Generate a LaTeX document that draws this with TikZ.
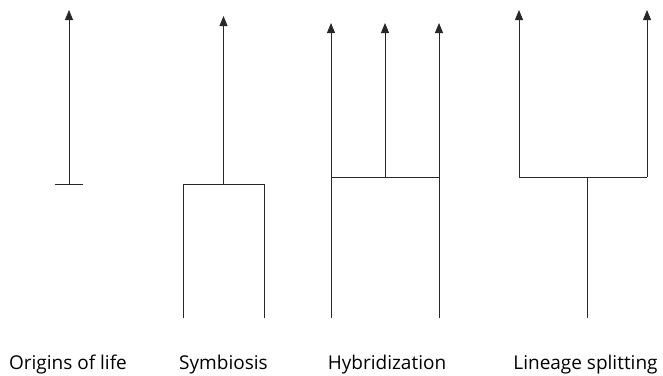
\documentclass[tikz,border=0pt]{standalone}
\usepackage{fontspec}
\setmainfont{Open Sans}
\usepackage{tikz}
\usetikzlibrary{arrows.meta,positioning}
\definecolor{lineGray}{RGB}{40,40,40}

\begin{document}
\begin{tikzpicture}[x=1pt,y=-1pt,
        branch/.style={draw=lineGray,line width=0.9pt},
        arrow/.style={branch,-{Triangle[length=10pt,width=8pt]}},
        caption/.style={anchor=base,font=\fontsize{19}{22}\selectfont,inner sep=0pt}
      ]
        \useasboundingbox (0,0) rectangle (663,375);
        % origins of life
        \coordinate (oBase) at (69,184);
        \coordinate (oTip) at (69,10);
        \coordinate (oBarL) at (55,184);
        \coordinate (oBarR) at (83,184);
        \draw[branch] (oBarL) -- (oBarR);
        \draw[arrow] (oBase) -- (oTip);
        % symbiosis
        \coordinate (sL) at (183,318);
        \coordinate (sR) at (264,318);
        \coordinate (sJoinL) at (183,184);
        \coordinate (sJoinR) at (264,184);
        \coordinate (sJoin) at (223.5,184);
        \coordinate (sTip) at (223.5,16);
        \draw[branch] (sL) -- (sJoinL) -- (sJoinR) -- (sR);
        \draw[arrow] (sJoin) -- (sTip);
        % hybridization
        \coordinate (hL) at (331,318);
        \coordinate (hR) at (439,318);
        \coordinate (hJoinL) at (331,177);
        \coordinate (hJoinM) at (385,177);
        \coordinate (hJoinR) at (439,177);
        \coordinate (hTipL) at (331,23);
        \coordinate (hTipM) at (385,23);
        \coordinate (hTipR) at (439,23);
        \draw[branch] (hJoinL) -- (hJoinR);
        \draw[branch] (hL) -- (hJoinL);
        \draw[branch] (hR) -- (hJoinR);
        \draw[arrow] (hJoinL) -- (hTipL);
        \draw[arrow] (hJoinM) -- (hTipM);
        \draw[arrow] (hJoinR) -- (hTipR);
        % lineage splitting
        \coordinate (lBase) at (587,318);
        \coordinate (lJoin) at (587,177);
        \coordinate (lJoinL) at (519,177);
        \coordinate (lJoinR) at (647,177);
        \coordinate (lTipL) at (519,10);
        \coordinate (lTipR) at (647,10);
        \draw[branch] (lBase) -- (lJoin);
        \draw[branch] (lJoinL) -- (lJoinR);
        \draw[arrow] (lJoinL) -- (lTipL);
        \draw[arrow] (lJoinR) -- (lTipR);

        \node[caption] (origins) at (68,369) {Origins of life};
        \node[caption] (symbiosis) at (223.5,369) {Symbiosis};
        \node[caption] (hybrid) at (387,369) {Hybridization};
        \node[caption] (lineage) at (585.5,369) {Lineage splitting};
      \end{tikzpicture}
\end{document}
